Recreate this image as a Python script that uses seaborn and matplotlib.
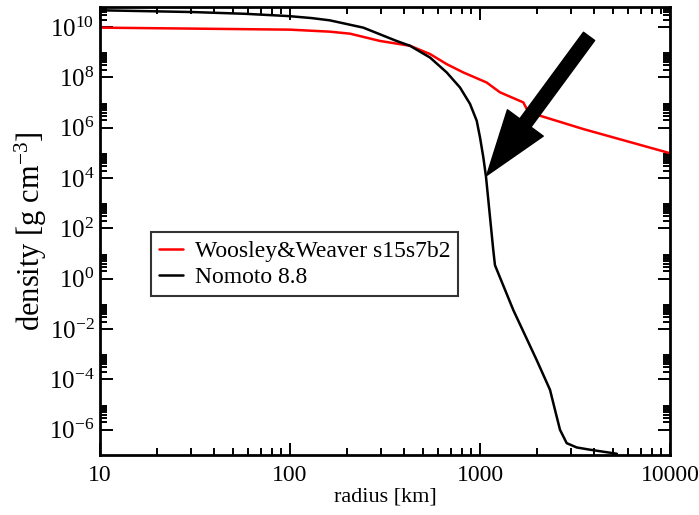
import numpy as np
import pandas as pd
import matplotlib
matplotlib.use("Agg")
import matplotlib.pyplot as plt
import matplotlib.ticker as mticker
import seaborn as sns

# ---- data ----
ww_label = "Woosley&Weaver s15s7b2"
nomoto_label = "Nomoto 8.8"

ww_radius = [10, 24, 100, 135, 162, 207, 298, 428, 546, 668, 817, 1084, 1274, 1690, 1762, 2070, 3500, 10000]
ww_log_rho = [9.98, 9.95, 9.90, 9.85, 9.82, 9.74, 9.45, 9.26, 8.93, 8.53, 8.20, 7.80, 7.41, 7.01, 6.75, 6.48, 5.95, 4.99]

nomoto_radius = [10, 30.5, 58, 98, 130, 162, 243, 364, 428, 546, 668, 785, 886, 961, 1000, 1041, 1076,
                 1175, 1199, 1497, 1988, 2336, 2482, 2637, 2860, 3228, 3793, 5250]
nomoto_log_rho = [10.67, 10.60, 10.53, 10.44, 10.36, 10.27, 9.98, 9.45, 9.26, 8.79, 8.20, 7.60, 6.95, 6.28,
                  5.62, 4.83, 4.04, 1.13, 0.54, -1.24, -3.23, -4.41, -5.21, -6.00, -6.53, -6.70, -6.79, -6.95]

x_ticks = [10, 100, 1000, 10000]
x_tick_labels = ["10", "100", "1000", "10000"]
y_tick_exps = [-6, -4, -2, 0, 2, 4, 6, 8, 10]

arrow_tip = (1084, 1.27e4)
arrow_tail = (3750, 4.3e9)

df = pd.concat([
    pd.DataFrame({"radius": ww_radius, "density": np.power(10.0, ww_log_rho), "model": ww_label}),
    pd.DataFrame({"radius": nomoto_radius, "density": np.power(10.0, nomoto_log_rho), "model": nomoto_label}),
], ignore_index=True)

sns.set_theme(style="ticks")
plt.rcParams["font.family"] = ["Liberation Serif", "DejaVu Serif"]
plt.rcParams["mathtext.fontset"] = "custom"
plt.rcParams["mathtext.rm"] = "Liberation Serif"
plt.rcParams["mathtext.it"] = "Liberation Serif:italic"
plt.rcParams["mathtext.bf"] = "Liberation Serif:bold"
for k in ["text.color", "axes.labelcolor", "xtick.color", "ytick.color", "axes.edgecolor"]:
    plt.rcParams[k] = "black"

fig = plt.figure(figsize=(6.99, 5.15), dpi=100)
ax = fig.add_axes([100 / 699, 1 - 455 / 515, 570 / 699, 448 / 515])

sns.lineplot(data=df, x="radius", y="density", hue="model", sort=False, estimator=None,
             palette={ww_label: "#ff0000", nomoto_label: "#000000"}, linewidth=1.8, ax=ax)

ax.set_xscale("log")
ax.set_yscale("log")
ax.set_xlim(10, 10000)
ax.set_ylim(1e-7, 10 ** 10.8)

ax.xaxis.set_major_locator(mticker.FixedLocator(x_ticks))
ax.xaxis.set_major_formatter(mticker.FixedFormatter(x_tick_labels))
ax.xaxis.set_minor_locator(mticker.LogLocator(base=10, subs=np.arange(2, 10), numticks=20))
ax.xaxis.set_minor_formatter(mticker.NullFormatter())

ax.yaxis.set_major_locator(mticker.FixedLocator([10.0 ** e for e in y_tick_exps]))
ax.yaxis.set_major_formatter(mticker.FuncFormatter(lambda v, p: r"$\mathregular{10^{%d}}$" % round(np.log10(v))))
minor_y = [k * 10.0 ** e for e in y_tick_exps for k in range(2, 10)]
ax.yaxis.set_minor_locator(mticker.FixedLocator(minor_y))
ax.yaxis.set_minor_formatter(mticker.NullFormatter())

ax.tick_params(which="both", direction="in", top=True, right=True, width=1.4, color="black")
ax.tick_params(which="major", length=9)
ax.tick_params(which="minor", length=5)
ax.tick_params(axis="x", which="major", labelsize=17, pad=7, labelcolor="black")
ax.tick_params(axis="y", which="major", labelsize=18, pad=4, labelcolor="black")
for s in ax.spines.values():
    s.set_linewidth(2)
    s.set_color("black")

ax.set_xlabel("radius [km]", fontsize=16, labelpad=1, color="black")
ax.set_ylabel(r"density [g cm$^{\mathregular{-3}}$]", fontsize=22, labelpad=0, color="black")

leg = ax.legend(loc="upper left", bbox_to_anchor=(51 / 570, 1 - 225 / 448), fontsize=17,
                frameon=True, fancybox=False, edgecolor="black", handlelength=1.0,
                handletextpad=0.5, borderpad=0.35, labelspacing=0.2, borderaxespad=0)
leg.get_frame().set_linewidth(1.5)
for t in leg.get_texts():
    t.set_color("black")
for line in leg.get_lines():
    line.set_linewidth(1.8)

ax.annotate("", xy=arrow_tip, xytext=arrow_tail,
            arrowprops=dict(facecolor="black", edgecolor="black", width=10, headwidth=32,
                            headlength=47, shrink=0))

plt.savefig("out.png", dpi=100)
